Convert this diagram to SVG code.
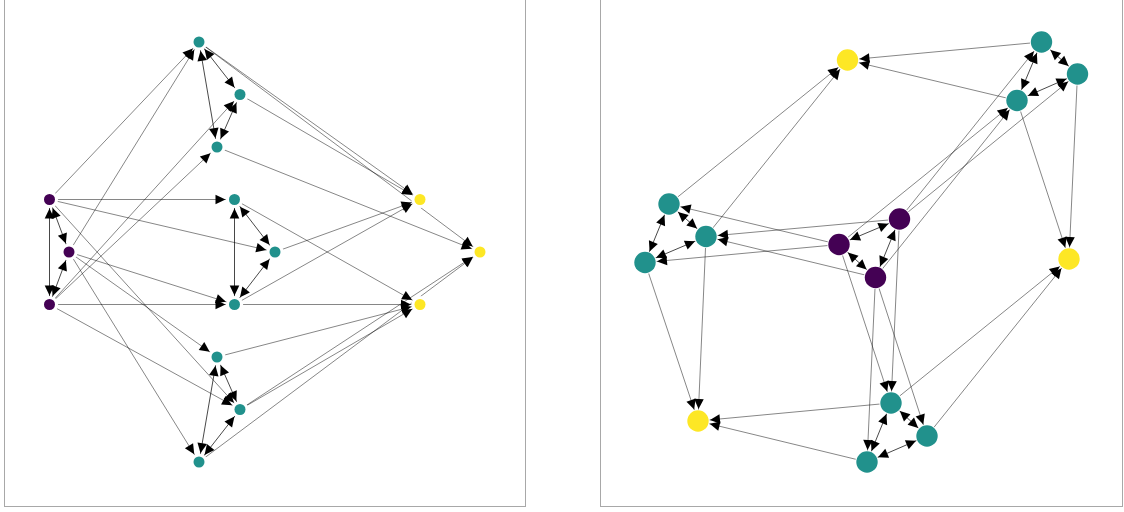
<svg xmlns="http://www.w3.org/2000/svg" width="1124" height="512" viewBox="0 0 1124 512">
<style>
.frame{fill:none;stroke:#a8a8a8;stroke-width:1}
.e{stroke:#000;stroke-width:0.8;stroke-opacity:0.6;fill:none}
.p{stroke:#000;stroke-width:0.9;stroke-opacity:0.8;fill:none}
#edgesL .e,#edgesL .p{marker-end:url(#hL)}
#edgesL .p{marker-start:url(#hL)}
#edgesR .e,#edgesR .p{marker-end:url(#hR)}
#edgesR .p{marker-start:url(#hR)}
.pu{fill:#440154}
.te{fill:#21918c}
.ye{fill:#fde725}
</style>
<defs>
<marker id="hL" markerUnits="userSpaceOnUse" orient="auto-start-reverse" refX="9" refY="0" markerWidth="20" markerHeight="20" overflow="visible">
<path d="M0,0 L-10,-4.8 L-10,4.8 Z" fill="#000"/>
</marker>
<marker id="hR" markerUnits="userSpaceOnUse" orient="auto-start-reverse" refX="12" refY="0" markerWidth="20" markerHeight="20" overflow="visible">
<path d="M0,0 L-10,-4.8 L-10,4.8 Z" fill="#000"/>
</marker>
<mask id="mL" maskUnits="userSpaceOnUse" x="0" y="0" width="1124" height="512">
<rect x="0" y="0" width="1124" height="512" fill="#fff"/>
<g fill="#000">
<circle cx="49.5" cy="199.5" r="8.6"/><circle cx="69" cy="252" r="8.6"/><circle cx="49.5" cy="304.5" r="8.6"/>
<circle cx="199" cy="42" r="8.6"/><circle cx="240" cy="94.5" r="8.6"/><circle cx="217" cy="147" r="8.6"/>
<circle cx="234.5" cy="199.5" r="8.6"/><circle cx="275" cy="252" r="8.6"/><circle cx="234.5" cy="304.5" r="8.6"/>
<circle cx="217" cy="357" r="8.6"/><circle cx="240" cy="409.5" r="8.6"/><circle cx="199" cy="462" r="8.6"/>
<circle cx="420" cy="199.5" r="8.6"/><circle cx="480" cy="252" r="8.6"/><circle cx="420" cy="304.5" r="8.6"/>
</g>
</mask>
<mask id="mR" maskUnits="userSpaceOnUse" x="0" y="0" width="1124" height="512">
<rect x="0" y="0" width="1124" height="512" fill="#fff"/>
<g fill="#000">
<circle cx="839" cy="244.5" r="11.6"/><circle cx="875.5" cy="277.5" r="11.6"/><circle cx="899.5" cy="219" r="11.6"/>
<circle cx="1017" cy="100.5" r="11.6"/><circle cx="1041.5" cy="42" r="11.6"/><circle cx="1077.5" cy="74" r="11.6"/>
<circle cx="645" cy="262.5" r="11.6"/><circle cx="669" cy="204" r="11.6"/><circle cx="706" cy="236.5" r="11.6"/>
<circle cx="867" cy="462" r="11.6"/><circle cx="891" cy="403" r="11.6"/><circle cx="927" cy="436" r="11.6"/>
<circle cx="847.5" cy="60" r="11.6"/><circle cx="1069" cy="259" r="11.6"/><circle cx="698" cy="421" r="11.6"/>
</g>
</mask>
</defs>
<rect width="1124" height="512" fill="#fff"/>
<rect class="frame" x="4.5" y="-20" width="521" height="526.5"/>
<rect class="frame" x="600.5" y="-20" width="522" height="526.5"/>

<g id="edgesL" mask="url(#mL)">
<line class="p" x1="49.5" y1="199.5" x2="69" y2="252"/>
<line class="p" x1="49.5" y1="199.5" x2="49.5" y2="304.5"/>
<line class="p" x1="69" y1="252" x2="49.5" y2="304.5"/>
<line class="p" x1="199" y1="42" x2="240" y2="94.5"/>
<line class="p" x1="199" y1="42" x2="217" y2="147"/>
<line class="p" x1="240" y1="94.5" x2="217" y2="147"/>
<line class="p" x1="234.5" y1="199.5" x2="275" y2="252"/>
<line class="p" x1="234.5" y1="199.5" x2="234.5" y2="304.5"/>
<line class="p" x1="275" y1="252" x2="234.5" y2="304.5"/>
<line class="p" x1="217" y1="357" x2="240" y2="409.5"/>
<line class="p" x1="217" y1="357" x2="199" y2="462"/>
<line class="p" x1="240" y1="409.5" x2="199" y2="462"/>
<line class="e" x1="49.5" y1="199.5" x2="199" y2="42"/>
<line class="e" x1="49.5" y1="199.5" x2="234.5" y2="199.5"/>
<line class="e" x1="49.5" y1="199.5" x2="275" y2="252"/>
<line class="e" x1="49.5" y1="199.5" x2="240" y2="409.5"/>
<line class="e" x1="69" y1="252" x2="199" y2="42"/>
<line class="e" x1="69" y1="252" x2="234.5" y2="304.5"/>
<line class="e" x1="69" y1="252" x2="217" y2="357"/>
<line class="e" x1="69" y1="252" x2="199" y2="462"/>
<line class="e" x1="49.5" y1="304.5" x2="240" y2="94.5"/>
<line class="e" x1="49.5" y1="304.5" x2="217" y2="147"/>
<line class="e" x1="49.5" y1="304.5" x2="234.5" y2="304.5"/>
<line class="e" x1="49.5" y1="304.5" x2="240" y2="409.5"/>
<line class="e" x1="199" y1="42" x2="420" y2="199.5"/>
<line class="e" x1="240" y1="94.5" x2="420" y2="199.5"/>
<line class="e" x1="275" y1="252" x2="420" y2="199.5"/>
<line class="e" x1="234.5" y1="304.5" x2="420" y2="199.5"/>
<line class="e" x1="199" y1="42" x2="480" y2="252"/>
<line class="e" x1="217" y1="147" x2="480" y2="252"/>
<line class="e" x1="240" y1="409.5" x2="480" y2="252"/>
<line class="e" x1="199" y1="462" x2="480" y2="252"/>
<line class="e" x1="234.5" y1="199.5" x2="420" y2="304.5"/>
<line class="e" x1="234.5" y1="304.5" x2="420" y2="304.5"/>
<line class="e" x1="217" y1="357" x2="420" y2="304.5"/>
<line class="e" x1="240" y1="409.5" x2="420" y2="304.5"/>
</g>

<g id="edgesR" mask="url(#mR)">
<line class="p" x1="839" y1="244.5" x2="875.5" y2="277.5"/>
<line class="p" x1="839" y1="244.5" x2="899.5" y2="219"/>
<line class="p" x1="875.5" y1="277.5" x2="899.5" y2="219"/>
<line class="p" x1="1017" y1="100.5" x2="1041.5" y2="42"/>
<line class="p" x1="1017" y1="100.5" x2="1077.5" y2="74"/>
<line class="p" x1="1041.5" y1="42" x2="1077.5" y2="74"/>
<line class="p" x1="645" y1="262.5" x2="669" y2="204"/>
<line class="p" x1="645" y1="262.5" x2="706" y2="236.5"/>
<line class="p" x1="669" y1="204" x2="706" y2="236.5"/>
<line class="p" x1="867" y1="462" x2="891" y2="403"/>
<line class="p" x1="867" y1="462" x2="927" y2="436"/>
<line class="p" x1="891" y1="403" x2="927" y2="436"/>
<line class="e" x1="839" y1="244.5" x2="1017" y2="100.5"/>
<line class="e" x1="839" y1="244.5" x2="645" y2="262.5"/>
<line class="e" x1="839" y1="244.5" x2="669" y2="204"/>
<line class="e" x1="839" y1="244.5" x2="891" y2="403"/>
<line class="e" x1="875.5" y1="277.5" x2="1017" y2="100.5"/>
<line class="e" x1="875.5" y1="277.5" x2="706" y2="236.5"/>
<line class="e" x1="875.5" y1="277.5" x2="867" y2="462"/>
<line class="e" x1="875.5" y1="277.5" x2="927" y2="436"/>
<line class="e" x1="899.5" y1="219" x2="1041.5" y2="42"/>
<line class="e" x1="899.5" y1="219" x2="1077.5" y2="74"/>
<line class="e" x1="899.5" y1="219" x2="706" y2="236.5"/>
<line class="e" x1="899.5" y1="219" x2="891" y2="403"/>
<line class="e" x1="1017" y1="100.5" x2="847.5" y2="60"/>
<line class="e" x1="1041.5" y1="42" x2="847.5" y2="60"/>
<line class="e" x1="669" y1="204" x2="847.5" y2="60"/>
<line class="e" x1="706" y1="236.5" x2="847.5" y2="60"/>
<line class="e" x1="1017" y1="100.5" x2="1069" y2="259"/>
<line class="e" x1="1077.5" y1="74" x2="1069" y2="259"/>
<line class="e" x1="891" y1="403" x2="1069" y2="259"/>
<line class="e" x1="927" y1="436" x2="1069" y2="259"/>
<line class="e" x1="645" y1="262.5" x2="698" y2="421"/>
<line class="e" x1="706" y1="236.5" x2="698" y2="421"/>
<line class="e" x1="867" y1="462" x2="698" y2="421"/>
<line class="e" x1="891" y1="403" x2="698" y2="421"/>
</g>

<g id="L-A"><circle class="pu" cx="49.5" cy="199.5" r="5.5"/></g>
<g id="L-B"><circle class="pu" cx="69" cy="252" r="5.5"/></g>
<g id="L-C"><circle class="pu" cx="49.5" cy="304.5" r="5.5"/></g>
<g id="L-D"><circle class="te" cx="199" cy="42" r="5.5"/></g>
<g id="L-E"><circle class="te" cx="240" cy="94.5" r="5.5"/></g>
<g id="L-F"><circle class="te" cx="217" cy="147" r="5.5"/></g>
<g id="L-G"><circle class="te" cx="234.5" cy="199.5" r="5.5"/></g>
<g id="L-H"><circle class="te" cx="275" cy="252" r="5.5"/></g>
<g id="L-I"><circle class="te" cx="234.5" cy="304.5" r="5.5"/></g>
<g id="L-J"><circle class="te" cx="217" cy="357" r="5.5"/></g>
<g id="L-K"><circle class="te" cx="240" cy="409.5" r="5.5"/></g>
<g id="L-L"><circle class="te" cx="199" cy="462" r="5.5"/></g>
<g id="L-Y1"><circle class="ye" cx="420" cy="199.5" r="5.5"/></g>
<g id="L-Y2"><circle class="ye" cx="480" cy="252" r="5.5"/></g>
<g id="L-Y3"><circle class="ye" cx="420" cy="304.5" r="5.5"/></g>

<g id="R-A"><circle class="pu" cx="839" cy="244.5" r="10.7"/></g>
<g id="R-B"><circle class="pu" cx="875.5" cy="277.5" r="10.7"/></g>
<g id="R-C"><circle class="pu" cx="899.5" cy="219" r="10.7"/></g>
<g id="R-D"><circle class="te" cx="1017" cy="100.5" r="10.7"/></g>
<g id="R-E"><circle class="te" cx="1041.5" cy="42" r="10.7"/></g>
<g id="R-F"><circle class="te" cx="1077.5" cy="74" r="10.7"/></g>
<g id="R-G"><circle class="te" cx="645" cy="262.5" r="10.7"/></g>
<g id="R-H"><circle class="te" cx="669" cy="204" r="10.7"/></g>
<g id="R-I"><circle class="te" cx="706" cy="236.5" r="10.7"/></g>
<g id="R-J"><circle class="te" cx="867" cy="462" r="10.7"/></g>
<g id="R-K"><circle class="te" cx="891" cy="403" r="10.7"/></g>
<g id="R-L"><circle class="te" cx="927" cy="436" r="10.7"/></g>
<g id="R-Y1"><circle class="ye" cx="847.5" cy="60" r="10.7"/></g>
<g id="R-Y2"><circle class="ye" cx="1069" cy="259" r="10.7"/></g>
<g id="R-Y3"><circle class="ye" cx="698" cy="421" r="10.7"/></g>
</svg>
